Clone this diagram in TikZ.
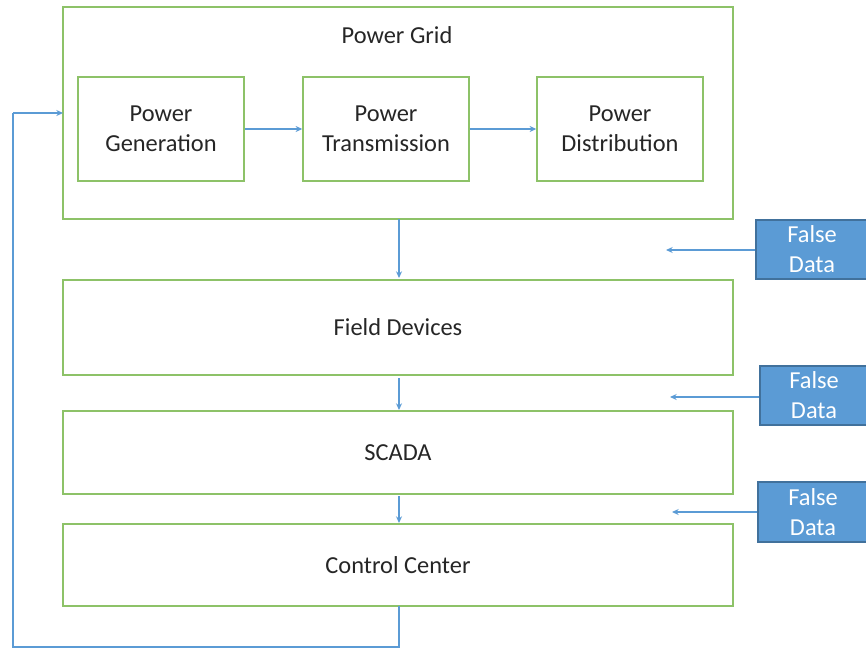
\documentclass[tikz,border=0pt]{standalone}
\usepackage{fontspec}
\setmainfont{Carlito}
\usetikzlibrary{arrows.meta}
\definecolor{gbox}{RGB}{141,194,104}
\definecolor{bline}{RGB}{91,155,213}
\definecolor{bfill}{RGB}{91,155,213}
\definecolor{bdraw}{RGB}{65,113,156}
\begin{document}
\begin{tikzpicture}[x=0.75pt,y=-0.75pt,
  gbx/.style={draw=gbox,line width=1.1pt,fill=white},
  inbox/.style={draw=gbox,line width=1.1pt,minimum width=166*0.75pt,minimum height=104*0.75pt,align=center,inner sep=0pt},
  fdbox/.style={draw=bdraw,fill=bfill,line width=0.8pt,text=white,align=center,inner sep=0pt},
  lbl/.style={font=\fontsize{18.3pt}{22.5pt}\selectfont,text=black!85},
  conn/.style={draw=bline,line width=0.8pt,-{Stealth[length=5pt,width=4.5pt]}},
  line/.style={draw=bline,line width=0.8pt}]
\useasboundingbox (0,0) rectangle (866,650);
% outer power grid
\draw[gbx] (63,7) rectangle (733,219);
\coordinate (pgL) at (63,113);
\coordinate (pgB) at (399,219);
\node[lbl] (pgt) at (397,35) {Power Grid};
\node[inbox,lbl] (gen) at (161,129) {Power\\Generation};
\node[inbox,lbl] (tra) at (386,129) {Power\\Transmission};
\node[inbox,lbl] (dis) at (620,129) {Power\\Distribution};
\draw[conn] (gen) -- (tra);
\draw[conn] (tra) -- (dis);
% big boxes
\node[gbx,lbl,minimum width=670*0.75pt,minimum height=95*0.75pt,inner sep=0pt] (fd) at (398,327.5) {Field Devices};
\node[gbx,lbl,minimum width=670*0.75pt,minimum height=83*0.75pt,inner sep=0pt] (sc) at (398,452.5) {SCADA};
\node[gbx,lbl,minimum width=670*0.75pt,minimum height=82*0.75pt,inner sep=0pt] (cc) at (398,565) {Control Center};
\draw[conn] (pgB) -- (399,278);
\draw[conn] (399,378) -- (399,410);
\draw[conn] (399,496) -- (399,523);
% feedback
\coordinate (fb1) at (399,647);
\coordinate (fb2) at (13,647);
\coordinate (fb3) at (13,113);
\draw[line] (399,606) -- (fb1) -- (fb2) -- (fb3);
\draw[conn] (fb3) -- (pgL);
% false data
\node[fdbox,lbl,text=white,minimum width=112*0.75pt,minimum height=59*0.75pt] (f1) at (812,249.5) {False\\Data};
\node[fdbox,lbl,text=white,minimum width=108*0.75pt,minimum height=59*0.75pt] (f2) at (814,395.5) {False\\Data};
\node[fdbox,lbl,text=white,minimum width=110*0.75pt,minimum height=60*0.75pt] (f3) at (813,512) {False\\Data};
\coordinate (a1) at (666,250);
\coordinate (a2) at (670,397);
\coordinate (a3) at (672,512);
\draw[conn] (f1.west |- a1) -- (a1);
\draw[conn] (f2.west |- a2) -- (a2);
\draw[conn] (f3.west |- a3) -- (a3);
\end{tikzpicture}
\end{document}
